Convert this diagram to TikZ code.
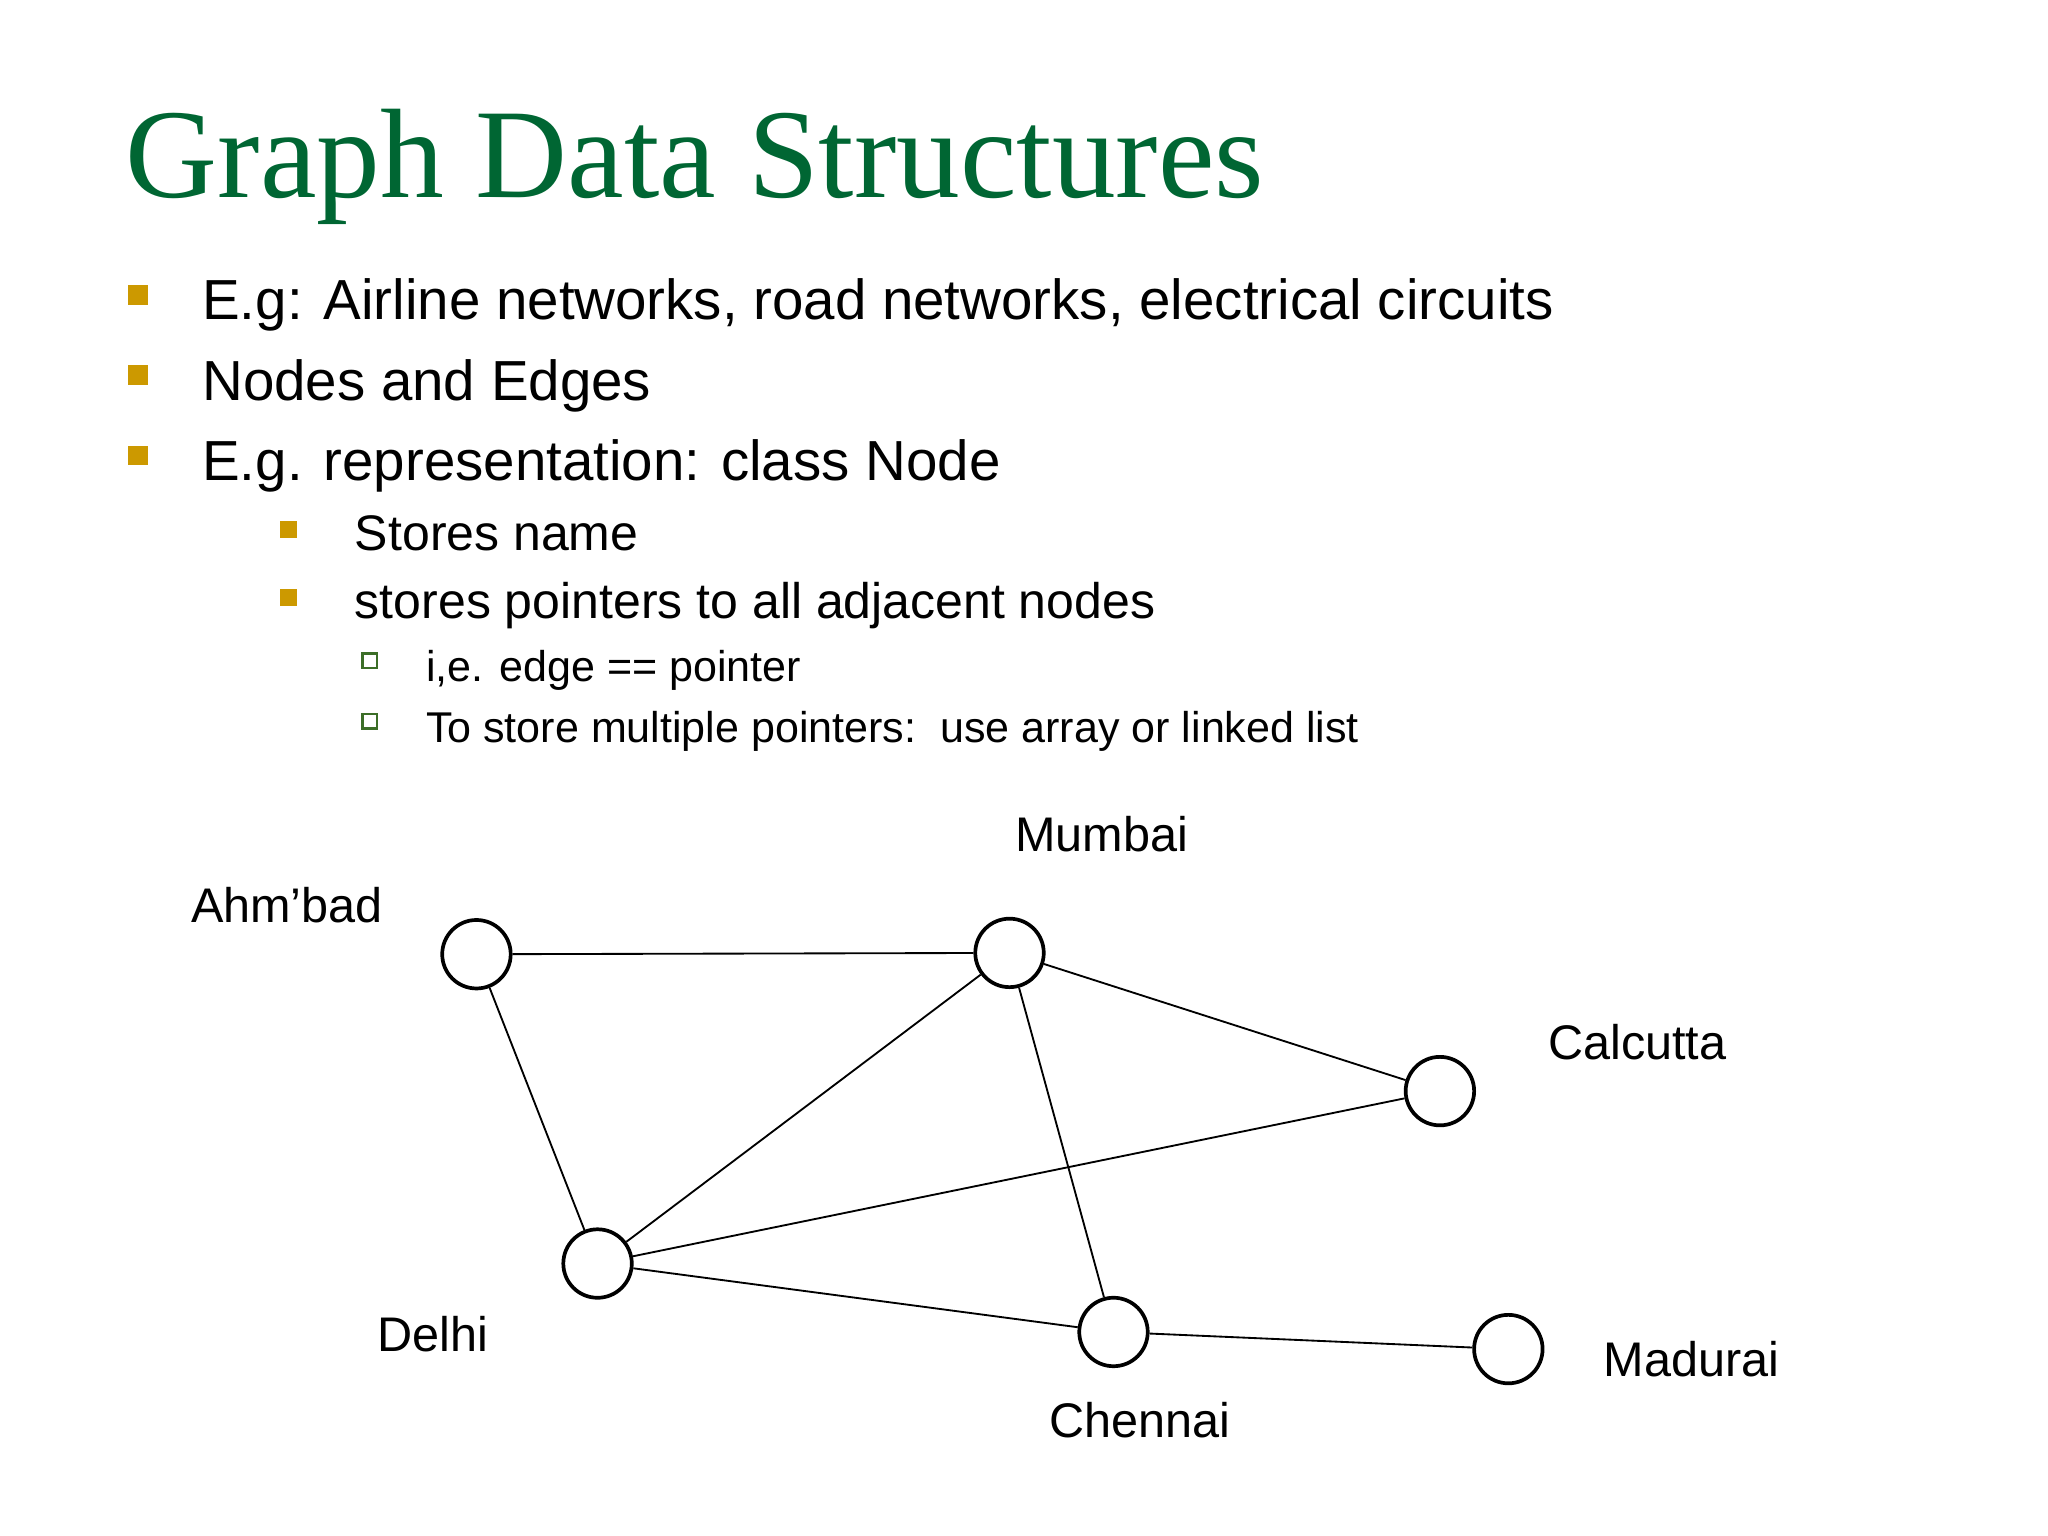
\documentclass[tikz,border=0pt]{standalone}
\usepackage{fontspec}
\setmainfont{Liberation Sans}
\newfontfamily\titlefont{Liberation Serif}
\definecolor{ttl}{RGB}{0,102,51}
\definecolor{gold}{RGB}{204,153,0}
\definecolor{sub}{RGB}{60,110,40}
\begin{document}
\begin{tikzpicture}[x=0.01cm,y=-0.01cm,
  city/.style={circle,draw,thick,minimum size=0.52cm,inner sep=0pt},
  lbl/.style={anchor=center,font=\fontsize{10.5pt}{12pt}\selectfont},
  b1/.style={anchor=base west,font=\fontsize{12.2pt}{14pt}\selectfont},
  b2/.style={anchor=base west,font=\fontsize{10.8pt}{13pt}\selectfont},
  b3/.style={anchor=base west,font=\fontsize{9.3pt}{11pt}\selectfont},
  gsq/.style={fill=gold,draw=none,minimum size=0.15cm,inner sep=0pt},
  hsq/.style={draw=sub,fill=white,minimum size=0.11cm,inner sep=0pt,line width=0.5pt}]
\useasboundingbox (0,0) rectangle (1556,1167);
\node[anchor=base west,inner sep=0pt,text=ttl,font=\titlefont\fontsize{27.5pt}{30pt}\selectfont] (title) at (95,150) {Graph Data Structures};
\node[gsq] (s1) at (105,224) {}; \node[b1,inner sep=0pt] (t1) at (153,243) {E.g: Airline networks, road networks, electrical circuits};
\node[gsq] (s2) at (105,285) {}; \node[b1,inner sep=0pt] (t2) at (153,304) {Nodes and Edges};
\node[gsq] (s3) at (105,346) {}; \node[b1,inner sep=0pt] (t3) at (153,365) {E.g. representation: class Node};
\node[gsq,minimum size=0.13cm] (s4) at (219,402) {}; \node[b2,inner sep=0pt] (t4) at (269,418) {Stores name};
\node[gsq,minimum size=0.13cm] (s5) at (219,454) {}; \node[b2,inner sep=0pt] (t5) at (269,470) {stores pointers to all adjacent nodes};
\node[hsq] (s6) at (281,502) {}; \node[b3,inner sep=0pt] (t6) at (323,518) {i,e. edge == pointer};
\node[hsq] (s7) at (281,548) {}; \node[b3,inner sep=0pt] (t7) at (323,564) {To store multiple pointers:\ \ use array or linked list};
\node[city] (A) at (362,725) {};
\node[city] (M) at (767,724) {};
\node[city] (K) at (1094,829) {};
\node[city] (D) at (454,960) {};
\node[city] (C) at (846,1012) {};
\node[city] (R) at (1146,1025) {};
\node[lbl] (lA) at (218,688) {Ahm’bad};
\node[lbl] (lM) at (837,634) {Mumbai};
\node[lbl] (lK) at (1244,792) {Calcutta};
\node[lbl] (lD) at (329,1014) {Delhi};
\node[lbl] (lC) at (866,1079) {Chennai};
\node[lbl] (lR) at (1285,1033) {Madurai};
\draw (A) -- (M); \draw (A) -- (D); \draw (M) -- (D); \draw (M) -- (K);
\draw (M) -- (C); \draw (K) -- (D); \draw (D) -- (C); \draw (C) -- (R);
\end{tikzpicture}
\end{document}
